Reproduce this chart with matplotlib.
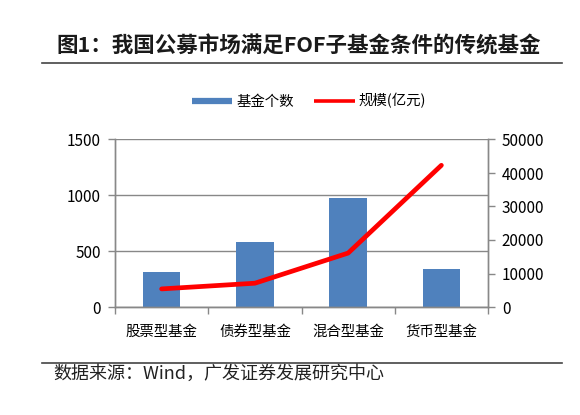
import matplotlib
matplotlib.use("Agg")
import matplotlib.pyplot as plt
from matplotlib.lines import Line2D
import numpy as np

plt.rcParams['font.family'] = ['Noto Sans CJK SC', 'DejaVu Sans']

categories = ["股票型基金", "债券型基金", "混合型基金", "货币型基金"]
fund_counts = [314, 580, 973, 339]
fund_scale = [5400, 7100, 16100, 42300]
left_ticks = [0, 500, 1000, 1500]
right_ticks = [0, 10000, 20000, 30000, 40000, 50000]
title = "图1：我国公募市场满足FOF子基金条件的传统基金"
source = "数据来源：Wind，广发证券发展研究中心"
legend_labels = ["基金个数", "规模(亿元)"]

BLUE = "#4F81BD"
RED = "#FF0000"
GRID = "#888888"

fig = plt.figure(figsize=(5.8, 4.15), dpi=100)
ax = fig.add_axes([115/580, 1-307/415, (488-115)/580, (307-139.5)/415])
ax2 = ax.twinx()

x = np.arange(len(categories))
ax.bar(x, fund_counts, width=0.4, color=BLUE, zorder=2)
ax.set_xlim(-0.5, len(categories)-0.5)
ax.set_ylim(0, 1500)
ax.set_yticks(left_ticks)
ax.yaxis.grid(True, color=GRID, linewidth=1.0, zorder=0)
ax.set_axisbelow(True)

ax2.plot(x, fund_scale, color=RED, linewidth=3.4, solid_capstyle='round', solid_joinstyle='round', zorder=3)
ax2.set_ylim(0, 50000)
ax2.set_yticks(right_ticks)

# x ticks at category boundaries, labels at centers
ax.set_xticks(np.arange(-0.5, len(categories), 1.0))
ax.set_xticklabels([])
ax.set_xticks(x, minor=True)
ax.set_xticklabels(categories, minor=True, fontsize=10.4)
ax.tick_params(axis='x', which='major', length=5, width=1, color=GRID, direction='out')
ax.tick_params(axis='x', which='minor', length=0, pad=13)
ax.tick_params(axis='y', length=5, width=1, color=GRID, direction='out', labelsize=11, pad=5)
ax2.tick_params(axis='y', length=5, width=1, color=GRID, direction='out', labelsize=11, pad=5)

for a in (ax, ax2):
    for s in a.spines.values():
        s.set_color(GRID)
        s.set_linewidth(1.0)
    a.spines['top'].set_visible(False)

# Title
fig.text(299/580, 1-46/415, title, ha='center', va='center', fontsize=15.5,
         fontweight='bold', color='#1a1a1a')
# rules
fig.add_artist(Line2D([42/580, 562/580], [1-63/415, 1-63/415], color='#444444', linewidth=1.2, transform=fig.transFigure))
fig.add_artist(Line2D([42/580, 562/580], [1-363/415, 1-363/415], color='#444444', linewidth=1.2, transform=fig.transFigure))
# source
fig.text(53/580, 1-374/415, source, ha='left', va='center', fontsize=13, color='#222222')

# legend
handles = [Line2D([], [], color=BLUE, linewidth=4.5, solid_capstyle='butt'),
           Line2D([], [], color=RED, linewidth=2.6, solid_capstyle='butt')]
fig.legend(handles, legend_labels, loc='center', bbox_to_anchor=(309/580, 1-101/415),
           ncol=2, frameon=False, fontsize=10.4, handlelength=2.8, handletextpad=0.3,
           columnspacing=1.4, borderpad=0)

fig.savefig("out.png", dpi=100)
